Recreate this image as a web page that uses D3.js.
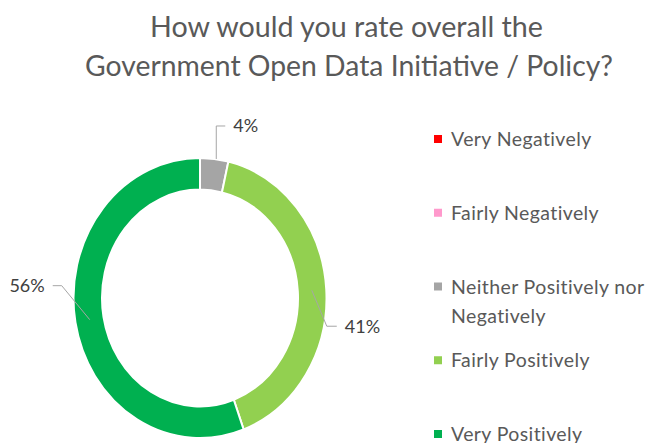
<!DOCTYPE html>
<html>
<head>
<meta charset="utf-8">
<script src="https://cdn.jsdelivr.net/npm/d3@7"></script>
<style>
  body { margin: 0; background: #fff; }
  svg { display: block; font-family: Lato, "Open Sans", sans-serif; }
</style>
</head>
<body>
<svg id="chart" width="649" height="443"></svg>
<script>
// chart data
const titleLines = ["How would you rate overall the", "Government Open Data Initiative / Policy?"];
const categories = ["Very Negatively", "Fairly Negatively", "Neither Positively nor Negatively", "Fairly Positively", "Very Positively"];
const legendLines = [["Very Negatively"], ["Fairly Negatively"], ["Neither Positively nor", "Negatively"], ["Fairly Positively"], ["Very Positively"]];
const values = [0, 0, 3.6, 40.8, 55.6];
const colors = ["#FF0000", "#FF99CC", "#A5A5A5", "#92D050", "#00B050"];

var svg = d3.select("#chart");

// title
svg.append("g").selectAll("text")
    .data(titleLines)
    .enter()
    .append("text")
    .attr("x", (d, i) => i == 0 ? 150 : 85)
    .attr("y", (d, i) => 37 + i * 39)
    .attr("textLength", (d, i) => i == 0 ? 393 : 528)
    .attr("lengthAdjust", "spacingAndGlyphs")
    .style("font-size", "28px")
    .style("fill", "#595959")
    .text(d => d);

// donut (slightly taller than wide, like the original)
var cx = 200, cy = 298, outer = 126.5, inner = 98, sy = 1.106;

var pie = d3.pie().sort(null).value(d => d);
var arcs = pie(values);
var arc = d3.arc().outerRadius(outer).innerRadius(inner);

var g = svg.append("g")
    .attr("transform", "translate(" + cx + "," + cy + ") scale(1," + sy + ")");

g.selectAll("path")
    .data(arcs.filter(d => d.value > 0))
    .enter()
    .append("path")
    .attr("d", arc)
    .attr("fill", d => colors[d.index])
    .attr("stroke", "#fff")
    .attr("stroke-width", 2)
    .attr("vector-effect", "non-scaling-stroke");

// leader lines + labels, position of each label relative to its slice
var labelLayout = {
    2: { r: outer, dx: 0, dy: -33, run: 9 },
    3: { r: 112, dx: 15, dy: 36, run: 10 },
    4: { r: 112, dx: -28, dy: -34, run: -9 }
};

function pt(a, r) {
    return [cx + r * Math.sin(a), cy - r * Math.cos(a) * sy];
}

var labeled = arcs.filter(d => d.value > 0);
var lg = svg.append("g");

labeled.forEach(function(d) {
    var L = labelLayout[d.index];
    var mid = (d.startAngle + d.endAngle) / 2;
    var p0 = pt(mid, L.r);
    if (d.index == 2) p0[0] = cx + outer * Math.sin(mid) + 2;
    var p1 = [p0[0] + L.dx, p0[1] + L.dy];
    var p2 = [p1[0] + L.run, p1[1]];
    lg.append("polyline")
        .attr("points", [p0, p1, p2].map(p => p.join(",")).join(" "))
        .attr("fill", "none")
        .attr("stroke", "#A6A6A6")
        .attr("stroke-width", 1);
    lg.append("text")
        .attr("x", p2[0] + (L.run > 0 ? 8 : -8))
        .attr("y", p2[1])
        .attr("dy", "0.36em")
        .attr("text-anchor", L.run > 0 ? "start" : "end")
        .style("font-size", "18px")
        .style("fill", "#404040")
        .text(Math.round(d.value) + "%");
});

// legend
var ly = d3.scalePoint().domain(categories).range([139, 434]);

var leg = svg.append("g").selectAll("g")
    .data(categories)
    .enter()
    .append("g")
    .attr("transform", d => "translate(434," + ly(d) + ")");

leg.append("rect")
    .attr("x", 0)
    .attr("y", -4)
    .attr("width", 8)
    .attr("height", 8)
    .attr("fill", (d, i) => colors[i]);

leg.each(function(d, i) {
    d3.select(this).selectAll("text")
        .data(legendLines[i])
        .enter()
        .append("text")
        .attr("x", 17)
        .attr("y", (t, j) => j * 29)
        .attr("dy", "0.36em")
        .style("font-size", "19.5px")
        .style("letter-spacing", "0.4px")
        .style("fill", "#595959")
        .text(t => t);
});
</script>
</body>
</html>
